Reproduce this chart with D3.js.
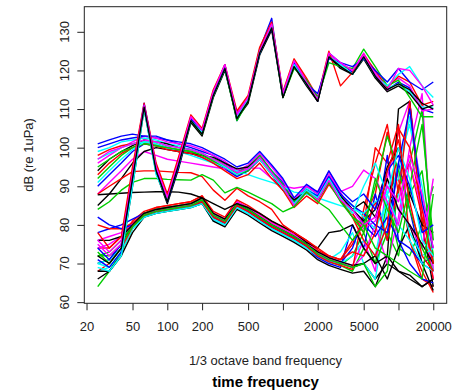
<!DOCTYPE html>
<html>
<head>
<meta charset="utf-8">
<script src="https://cdn.jsdelivr.net/npm/d3@7"></script>
<style>
  body { margin: 0; background: #fff; }
  svg { display: block; font-family: "Liberation Sans", Arial, sans-serif; }
</style>
</head>
<body>
<div id="chart"></div>
<script>
// 1/3 octave band centre frequencies (Hz)
const bands = [25, 31.5, 40, 50, 63, 80, 100, 125, 160, 200, 250, 315, 400, 500, 630,
  800, 1000, 1250, 1600, 2000, 2500, 3150, 4000, 5000, 6300, 8000, 10000, 12500, 16000, 20000];

// lower group
const groupC = [
  [70,71,75,80,83,84,84.5,85,85.5,87,82.5,81,85.5,84,82,80,78.5,77,75,72.5,71,70,69,70,66,70,68,67,64,66],
  [74,74,77,81,83.5,84.5,85,85.5,86,87.5,83,81.5,86,84.5,82.5,80.5,79,77.5,75.5,73,72,71,75,82,88,104,92,76,66,64],
  [64,68,73,79,82.5,83.5,84,84.5,85,86.5,82,80.5,85,83.5,81.5,79.5,78,76.5,74.5,72,70.5,69.5,72,78,70,86,74,72,80,90],
  [78,79,80,81.5,83,83.5,84,84.5,85,86,81.5,80,84.5,83,81,79,77.5,76,74,71.5,70,69,80,74,88,76,96,84,70,68],
  [68,69,73,79,82,83,83.5,84,84.5,85.5,81,80,84.5,83,81,79,77.5,76,74,72,71,73,78,70,66,84,96,106,90,68],
  [76,77,78,80.5,83,84,84.5,85,85.5,86.5,83,81.5,86,84.5,82.5,80.5,79,77.5,75.5,73,71.5,70.5,69.5,76,68,92,104,112,86,66],
  [66,68,72,78,82,83,83.5,84,84.5,85.5,81,79.5,84,82.5,80.5,78.5,77,75.5,73.5,71,69.5,68.5,67.5,68,64,72,110,112,80,64],
  [80,79,79,80.5,83,84.5,85,85.5,86,87.5,83.5,82,86.5,85,83,81,79.5,78,76,73.5,72,71,76,80,100,96,106,76,68,62.5],
  [72,73,76,80,83,84,84.5,85,85.5,86.5,82,80.5,85,83.5,81.5,79.5,78,76.5,74.5,72,70.5,69.5,68,74,70,78,72,88,94,72],
  [82,80,79,80,82.5,83.5,84,84.5,85,86,82,80.5,85,83.5,81.5,79.5,78,76.5,74.5,72,70.5,70,74,82,78,98,76,70,66,65],
  [70,71,74,79,82,83,83.5,84,84.5,85.5,81.5,80,84.5,83,81,79,77.5,76,74,72,70.5,70,72,76,72,88,92,108,86,70],
  [74,75,77,80,82.5,83.5,84,84.5,85,86.5,82.5,81,85.5,84,82,80,78.5,77,75,72.5,71,70,69,72,80,70,82,100,114,68],
  [76,76,77,80,83,84,84.5,85,85.5,87,83,81.5,85.5,84,82,80,78.5,77,75,73,71.5,70.5,69.5,70,72,66,74,80,70,63],
  [68,70,74,79.5,82.5,83.5,84,84.5,85,86,82,80.5,85,83.5,81.5,79.5,78,76.5,74.5,72,70.5,69.5,68.5,84,96,106,88,112,80,66],
  [72,72,75,79.5,82.5,83.5,84,84.5,85,86.5,82.5,81,85.5,84,82,80,78.5,77,75,72.5,71,70,69,70,64,68,90,96,110,70]
];

// middle group
const groupB = [
  [101,102,103,103.5,103,102.5,102,101,100,99,98,96,94,95,98,94,91,86,90,88,92.5,88,84,80,77,82,76,74,70,72],
  [99,100,101.5,102,102.5,102,101,100.5,99.5,98.5,97,95.5,93,94.5,97.5,94,90.5,85.5,89.5,87.5,93,87.5,85,82,79,86,88,78,72,74],
  [96,98,100,101.5,103,102.5,101.5,101,100.5,99.5,98,96.5,94,95.5,98.5,95,91.5,86.5,90,88,93,88.5,83,79,81,90,84,80,74,92],
  [94,97,99,100.5,102,101.5,101,100,99.5,98.5,97,95.5,93,94.5,97,93.5,90,85.5,89,87,92,87.5,84,81,84,95,100,88,80,78],
  [98,99.5,100.5,101,101.5,101,100,99.5,99,98,96.5,95,93,94,97,93,90,85,88.5,86.5,91.5,87,83,78,86,76,90,96,82,70],
  [92,95,98,100,101.5,101,100,99.5,99,98,97,95.5,93.5,95,98,94,90.5,86,89,87,92,87,82,80,90,103,94,84,74,68],
  [90,93,96,99,101,100.5,100,99,98.5,97.5,96,94.5,92.5,94,97,93.5,90,85.5,89,87.5,92.5,88,85,83,80,78,96,110,86,74],
  [97,98.5,100,101,101.5,101,100,99,98,97,96,95,94,93,92,91,90,88.5,88,87,86,85,84,83,86,88,80,76,70,68],
  [88,91,94,97,99,98,97,96.5,96,95.5,95,94.5,94.5,94.7,94.7,92,90,89.5,90,88.6,93.8,88.6,90,94.2,92,86,80,96,84,76],
  [85,88,92,96,99,100,99.5,99,98.5,98,97.5,96,94.5,95,97.5,93,89,86.5,88.5,86.5,91,86.5,84,86,82,92,84,80,75,70],
  [93,96,98.5,100,101,100.5,99.5,99,98.5,97.5,96,94,92,93,96,92,89,84.5,87.5,85.5,90.5,86.5,82,76,72,80,105,100,84,70],
  [95,97,99,100,101,100.5,100,99.5,99,98,96.5,95,93,94,97.5,93.5,90,85,88.5,86.5,91,86,82,78,92,84,78,90,106,76],
  [100,101,102,102.5,103,103,102,101.5,101,100,98.5,97,95,96,99,95.5,92,87,90.5,88.5,94,89,86,88,84,94,98,90,78,80],
  [91,94,97,99.5,101.5,101.5,100.5,100,99.5,98.5,97,95,93,94.5,97,93,89.5,85.5,89,87,92,87,83,90,96,88,100,92,76,72],
  [97,99,100,101,102,101.5,100.5,100,99.5,98.5,97,95.5,93.5,94.5,97.5,93.5,90,85,88.5,86.5,91.5,86.5,84,80,82,90,86,98,88,74]
];

// odd ones between the groups (black flat, red flat, green)
const groupOdd = [
  [87.8,88,88.2,88.4,88.5,88.6,88.6,88.5,88,87,85.5,84,85.5,84.5,83,81,79.5,78,75.5,74,78,78.5,80,74,70,72,68,66,64,66],
  [88,90,92,93.8,94,94,93.8,93.6,93.5,92.5,89,86.4,89.5,87.5,86,84,80,78,76,74,72,71,73,72,78,94,102,86,72,68],
  [84,86,89,91,92,92,91.8,91.7,91.6,93,91.6,88.3,89.7,88.5,87,85.5,83.4,84.7,88.5,86,84,80,76,80,74,72,70,68,66,88]
];

// upper group
const groupA = [
  [74,71,75,93,111.5,95,86,96,107.5,104,114,121.5,107,112.5,125.5,133.5,113,122,117,112,124.5,122,119.5,124,118.5,115,117,115.5,110,109],
  [70,69,73,91,110.5,94,86.5,95,107,103.5,113.5,120.5,108,112,124.5,131,113.5,121.5,116.5,112.5,124,121,119,123.5,119,115.5,116.5,114.5,110.5,110.5],
  [76,73,76,94,111,95.5,87.5,97,108,104.5,114.5,121,109,113,125,132,114,122.5,117.5,113,124,121.5,120,124.5,119.5,116,118,116,109.5,110],
  [68,68,72,90,110,93.5,85.5,94.5,106.5,103,113,120,107.5,111.5,124,130.5,113,121,116,112,123.5,120.5,119,123,118,114.5,116,114,110,111],
  [78,74,77,95,111.5,96,88,97.5,108.5,105,115,121.5,109.5,113.5,126,132.5,114.5,123,118,113,125,116,119.5,124,120,115.5,118.5,117,111,112],
  [73,70,74,92,110.5,94,86,95.5,107,103.5,113.5,120.5,107,112,125,131.5,113,120.5,117.5,113,122,121,120.5,125.5,121,116,117.5,113,108,108],
  [71,69,73,91,111,94.5,86,95,107.5,104,114,121,108.5,112.5,124.5,131,114,121.5,116.5,114,123,122,121,123,120,117,120.5,117,115,117],
  [69,68,72,90,110,93,86.5,95.5,107,104,113.5,120.5,108,112.5,124.5,131.5,113.5,121.5,116.5,112.5,123.5,121.5,119,123.5,118.5,116,119,121,116,113],
  [75,72,75,93,111,95,87,96.5,108,104.5,114.5,121.5,108.5,113,125,132,114,122.5,117,112.5,124.5,122,120,124,119,115,120.5,120,116,111],
  [72,70,74,92,110.5,94,86,95.5,107,103.5,113.5,120.5,107.5,112,124.5,131,113,121,116.5,112,123.5,121,119,123.5,118.5,115,116.5,115,111.5,110]
];

const series = [...groupC, ...groupB, ...groupOdd, ...groupA];

const xTicks = [20, 50, 100, 200, 500, 1000, 2000, 5000, 10000, 20000];
const xTickLabels = ["20", "50", "100", "200", "500", "", "2000", "5000", "", "20000"];
const yTicks = [60, 70, 80, 90, 100, 110, 120, 130];

// R default palette, cycled like matplot
const palette = ["#000000", "#FF0000", "#00CD00", "#0000FF", "#00FFFF", "#FF00FF"];

const W = 463, H = 392;
const box = { left: 84.3, top: 6.7, right: 446.7, bottom: 303.3 };

const svg = d3.select("#chart").append("svg")
  .attr("width", W).attr("height", H);

// log x with R's 4% padding around the band range
const lx0 = Math.log10(bands[0]), lx1 = Math.log10(bands[bands.length - 1]);
const padX = 0.04 * (lx1 - lx0);
const x = d3.scaleLog()
  .domain([Math.pow(10, lx0 - padX), Math.pow(10, lx1 + padX)])
  .range([box.left, box.right]);

const y = d3.scaleLinear()
  .domain([59.7, 136.5])
  .range([box.bottom, box.top]);

const line = d3.line()
  .x((d, i) => x(bands[i]))
  .y(d => y(d));

svg.append("g")
  .selectAll("path")
  .data(series)
  .join("path")
  .attr("d", line)
  .attr("fill", "none")
  .attr("stroke", (d, i) => palette[i % palette.length])
  .attr("stroke-width", 1.4)
  .attr("stroke-linejoin", "round");

// box
svg.append("rect")
  .attr("x", box.left).attr("y", box.top)
  .attr("width", box.right - box.left).attr("height", box.bottom - box.top)
  .attr("fill", "none").attr("stroke", "#222").attr("stroke-width", 1);

// x axis
const xAxis = svg.append("g")
  .attr("transform", "translate(0," + box.bottom + ")")
  .call(d3.axisBottom(x).tickValues(xTicks)
    .tickFormat((d, i) => xTickLabels[i])
    .tickSize(7).tickSizeOuter(0).tickPadding(11));
xAxis.select(".domain").remove();
xAxis.selectAll("line").attr("stroke", "#222");
xAxis.selectAll("text").attr("font-size", 13).attr("fill", "#222")
  .style("font-family", "Liberation Sans, Arial, sans-serif");

// y axis, labels parallel to the axis like R
const yAxis = svg.append("g")
  .attr("transform", "translate(" + box.left + ",0)")
  .call(d3.axisLeft(y).tickValues(yTicks).tickSize(7).tickSizeOuter(0).tickFormat(""));
yAxis.select(".domain").remove();
yAxis.selectAll("line").attr("stroke", "#222");
svg.append("g")
  .selectAll("text")
  .data(yTicks)
  .join("text")
  .attr("transform", d => "translate(69," + y(d) + ") rotate(-90)")
  .attr("text-anchor", "middle")
  .attr("font-size", 13)
  .attr("fill", "#222")
  .text(d => d);

// titles
svg.append("text")
  .attr("transform", "translate(33," + ((box.top + box.bottom) / 2) + ") rotate(-90)")
  .attr("text-anchor", "middle")
  .attr("font-size", 13)
  .attr("fill", "#222")
  .text("dB (re 1uPa)");

svg.append("text")
  .attr("x", (box.left + box.right) / 2).attr("y", 364.5)
  .attr("text-anchor", "middle")
  .attr("font-size", 13)
  .attr("fill", "#222")
  .text("1/3 octave band frequency");

svg.append("text")
  .attr("x", (box.left + box.right) / 2).attr("y", 387)
  .attr("text-anchor", "middle")
  .attr("font-size", 15)
  .attr("font-weight", "bold")
  .attr("fill", "#000")
  .text("time frequency");
</script>
</body>
</html>
